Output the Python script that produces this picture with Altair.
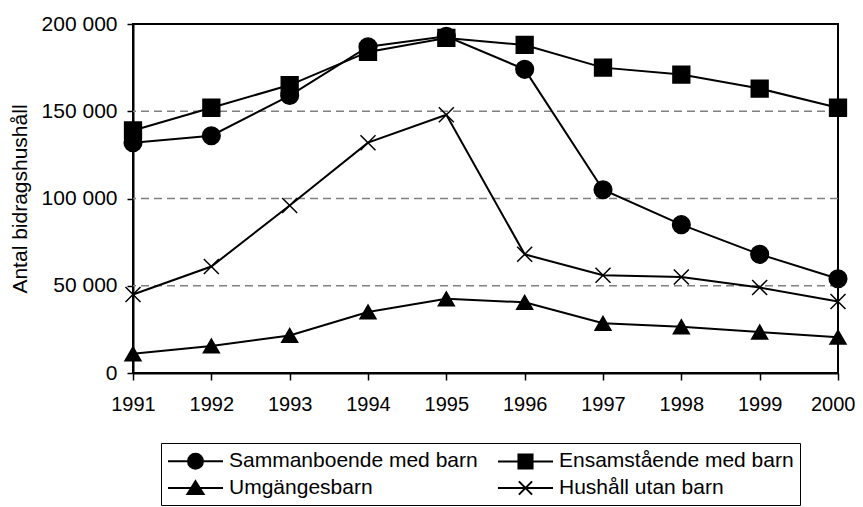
import altair as alt
import pandas as pd

years = [1991, 1992, 1993, 1994, 1995, 1996, 1997, 1998, 1999, 2000]
series_names = ["Sammanboende med barn", "Ensamstående med barn", "Umgängesbarn", "Hushåll utan barn"]
sammanboende = [132000, 136000, 159000, 187000, 193000, 174000, 105000, 85000, 68000, 54000]
ensamstaende = [139000, 152000, 165000, 184000, 192000, 188000, 175000, 171000, 163000, 152000]
umgangesbarn = [11000, 15500, 21500, 35000, 42500, 40500, 28500, 26500, 23500, 20500]
hushall_utan = [45000, 61000, 96000, 132000, 148000, 68000, 56000, 55000, 49000, 41000]
y_ticks = [0, 50000, 100000, 150000, 200000]
grid_values = [50000, 100000, 150000]

rows = []
for name, vals in zip(series_names, [sammanboende, ensamstaende, umgangesbarn, hushall_utan]):
    for yr, v in zip(years, vals):
        rows.append({"year": yr, "value": v, "series": name})
df = pd.DataFrame(rows)
grid_df = pd.DataFrame({"value": grid_values})

FONT = "Liberation Sans"

x_enc = alt.X("year:Q", scale=alt.Scale(domain=[1991, 2000], nice=False, zero=False),
              axis=alt.Axis(values=years, format="d", title=None, labelFontSize=20,
                            labelColor="black", tickSize=7, tickColor="black", tickWidth=1.5,
                            domainColor="black", domainWidth=2, labelPadding=14, grid=False,
                            labelFont=FONT, labelFlush=False, labelOverlap=False,
                            labelAlign=alt.condition("datum.value == 2000", alt.value("right"),
                                                     alt.value("center")),
                            labelOffset=alt.condition("datum.value == 2000", alt.value(17),
                                                      alt.value(0))))
y_scale = alt.Scale(domain=[0, 200000], nice=False)
y_axis = alt.Axis(values=y_ticks, labelExpr="replace(format(datum.value, ','), ',', ' ')",
                  title="Antal bidragshushåll", titleFontSize=21, titleFont=FONT,
                  titleFontWeight="normal", titleColor="black", titleAngle=270,
                  titleX=-113, titleY=174.5, titleAlign="center", titleBaseline="middle",
                  labelFontSize=21, labelColor="black", labelFont=FONT, tickSize=6,
                  tickColor="black", tickWidth=1.5, domainColor="black", domainWidth=2,
                  labelPadding=10, grid=False, labelFlush=False, labelOverlap=False)
y_enc = alt.Y("value:Q", scale=y_scale, axis=y_axis)

grid = alt.Chart(grid_df).mark_rule(color="#808080", strokeWidth=1.5, strokeDash=[8, 5]).encode(
    y=y_enc
)

lines = alt.Chart(df).mark_line(color="black", strokeWidth=2).encode(
    x=x_enc, y=y_enc, detail="series:N"
)

x_path = "M-1,-1L1,1M-1,1L1,-1"
points = alt.Chart(df).mark_point(filled=True, color="black", stroke="black", strokeWidth=1.5,
                                  opacity=1).encode(
    x="year:Q", y="value:Q",
    shape=alt.Shape("series:N", scale=alt.Scale(domain=series_names,
                                                range=["circle", "square", "triangle-up", x_path]),
                    legend=None),
    size=alt.Size("series:N", scale=alt.Scale(domain=series_names, range=[310, 225, 400, 324]),
                  legend=None),
)

leg_line = "M-1,0L4,0"
leg_paths = [
    leg_line + "M0.82,0A0.68,0.68,0,1,1,2.18,0A0.68,0.68,0,1,1,0.82,0Z",
    leg_line + "M0.86,-0.64L2.14,-0.64L2.14,0.64L0.86,0.64Z",
    leg_line + "M1.5,-0.62L2.23,0.55L0.77,0.55Z",
    leg_line + "M0.9,-0.6L2.1,0.6M0.9,0.6L2.1,-0.6",
]
legend_layer = alt.Chart(df).transform_filter("datum.value < 0").mark_point(
    filled=False, fill="black", stroke="black", strokeWidth=2, opacity=1
).encode(
    x="year:Q", y="value:Q",
    shape=alt.Shape("series:N", scale=alt.Scale(domain=series_names, range=leg_paths),
                    legend=alt.Legend(title=None, orient="none", legendX=28, legendY=419,
                                      direction="horizontal",
                                      columns=2, columnPadding=16, rowPadding=3,
                                      symbolSize=484, labelOffset=38, labelFontSize=21,
                                      labelFont=FONT, labelColor="black", labelLimit=400,
                                      symbolStrokeWidth=2, symbolOpacity=1,
                                      strokeColor="black", fillColor="white", padding=6)),
)

chart = alt.layer(grid, lines, points, legend_layer).resolve_scale(
    shape="independent", size="independent"
).properties(
    width=705, height=349,
    autosize=alt.AutoSizeParams(type="none"),
    padding={"left": 125, "top": 16, "right": 17, "bottom": 134},
).configure(font=FONT).configure_view(stroke="black", strokeWidth=2)

chart.save("out.html", embed_options={"renderer": "svg", "actions": False})
